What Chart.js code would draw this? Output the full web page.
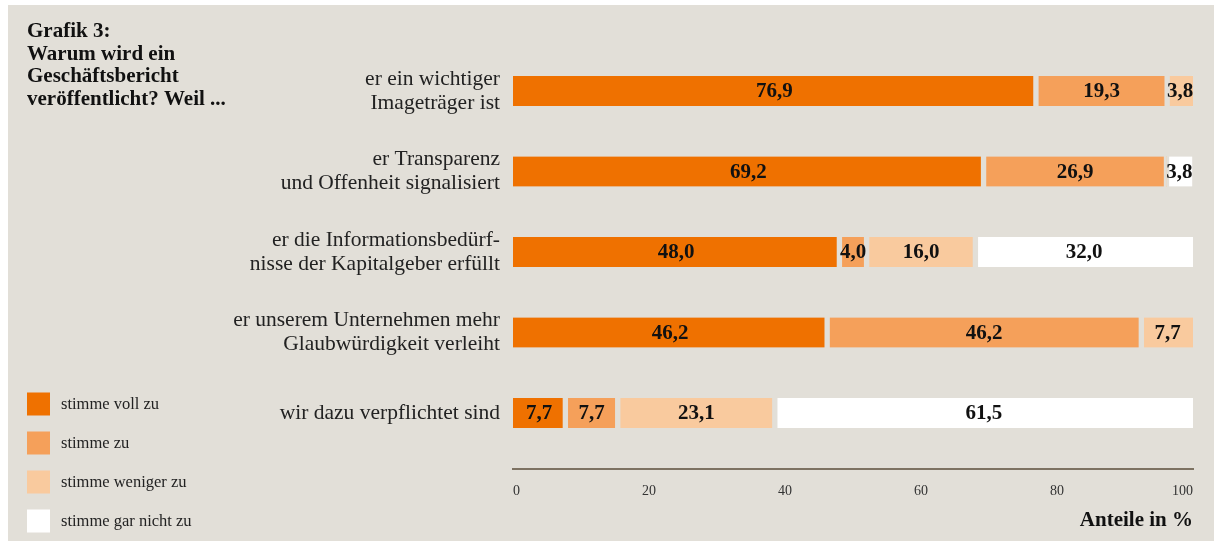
<!DOCTYPE html>
<html>
<head>
<meta charset="utf-8">
<script src="https://cdn.jsdelivr.net/npm/chart.js@4"></script>
<style>
  html, body { margin: 0; padding: 0; background: #ffffff; }
  #panel { position: absolute; left: 8px; top: 5px; width: 1206px; height: 536px; background: #e2dfd8; }
</style>
</head>
<body>
<div id="panel"><canvas id="myChart" width="1206" height="536"></canvas></div>
<script>
const categories = [
    ['er ein wichtiger', 'Imageträger ist'],
    ['er Transparenz', 'und Offenheit signalisiert'],
    ['er die Informationsbedürf-', 'nisse der Kapitalgeber erfüllt'],
    ['er unserem Unternehmen mehr', 'Glaubwürdigkeit verleiht'],
    ['wir dazu verpflichtet sind']
];
const seriesNames = ['stimme voll zu', 'stimme zu', 'stimme weniger zu', 'stimme gar nicht zu'];
const vollZu = [76.9, 69.2, 48.0, 46.2, 7.7];
const zu = [19.3, 26.9, 4.0, 46.2, 7.7];
const wenigerZu = [3.8, 0, 16.0, 7.7, 23.1];
const garNichtZu = [0, 3.8, 32.0, 0, 61.5];
const xTicks = [0, 20, 40, 60, 80, 100];
const titleLines = ['Grafik 3:', 'Warum wird ein', 'Geschäftsbericht', 'veröffentlicht? Weil ...'];

const colors = ['#ef7100', '#f5a05a', '#f9ca9e', '#ffffff'];
const bg = '#e2dfd8';
const serif = "'Liberation Serif', 'Times New Roman', serif";
const allSeries = [vollZu, zu, wenigerZu, garNichtZu];

function fmt(v) {
    return v.toFixed(1).replace('.', ',');
}

// gaps between the segments of one bar, none at the outer ends
function segBorder(ctx) {
    const i = ctx.dataIndex, d = ctx.datasetIndex;
    let first = true, last = true;
    for (let k = 0; k < d; k++) if (allSeries[k][i] > 0) first = false;
    for (let k = d + 1; k < allSeries.length; k++) if (allSeries[k][i] > 0) last = false;
    return { left: first ? 0 : 3, right: last ? 0 : 3, top: 0, bottom: 0 };
}

const datasets = allSeries.map((vals, d) => ({
    label: seriesNames[d],
    data: vals.map((v, i) => ({ x: v, y: i })),
    backgroundColor: colors[d],
    borderColor: bg,
    borderWidth: segBorder,
    borderSkipped: false,
    barThickness: 30
}));

const extras = {
    id: 'extras',
    afterDatasetsDraw(chart) {
        const c = chart.ctx;
        c.save();
        c.fillStyle = '#111';
        c.font = 'bold 21px ' + serif;
        c.textAlign = 'center';
        c.textBaseline = 'middle';
        chart.data.datasets.forEach((ds, d) => {
            chart.getDatasetMeta(d).data.forEach((bar, i) => {
                const v = allSeries[d][i];
                if (!v) return;
                const cx = (bar.x + bar.base) / 2;
                c.fillText(fmt(v), cx, bar.y + 1);
            });
        });
        c.restore();
    },
    afterDraw(chart) {
        const c = chart.ctx;
        c.save();
        c.fillStyle = '#111';
        c.font = 'bold 21px ' + serif;
        c.textAlign = 'left';
        c.textBaseline = 'middle';
        titleLines.forEach((t, k) => c.fillText(t, 19, 27 + k * 22.5));
        c.font = '16.5px ' + serif;
        seriesNames.forEach((name, k) => {
            const y = 399 + k * 39;
            c.fillStyle = colors[k];
            c.fillRect(19, y - 11.5, 23, 23);
            c.fillStyle = '#222';
            c.fillText(name, 53, y + 1);
        });
        c.restore();
    }
};

new Chart(document.getElementById('myChart'), {
    type: 'bar',
    data: { datasets: datasets },
    options: {
        indexAxis: 'y',
        responsive: false,
        animation: false,
        layout: { padding: { left: 0, right: 21, top: 42, bottom: 8 } },
        plugins: { legend: { display: false }, tooltip: { enabled: false } },
        scales: {
            x: {
                type: 'linear',
                stacked: true,
                min: 0,
                max: 100,
                afterBuildTicks: (scale) => { scale.ticks = xTicks.map(v => ({ value: v })); },
                grid: { display: false },
                border: { display: true, color: '#7d7262', width: 2 },
                ticks: { color: '#333', font: { family: serif, size: 14 }, padding: 6, align: 'inner', maxRotation: 0 },
                title: {
                    display: true,
                    text: 'Anteile in %',
                    align: 'end',
                    color: '#111',
                    font: { family: serif, size: 21, weight: 'bold' },
                    padding: { top: 12, bottom: 0 }
                },
                afterFit: (scale) => { scale.height = 64; scale.paddingLeft = 0; scale.paddingRight = 0; }
            },
            y: {
                type: 'linear',
                stacked: true,
                reverse: true,
                offset: false,
                min: -0.5466,
                max: 4.6957,
                afterBuildTicks: (scale) => { scale.ticks = categories.map((c, i) => ({ value: i })); },
                grid: { display: false, offset: false },
                border: { display: false },
                ticks: {
                    color: '#222',
                    font: { family: serif, size: 21.5, lineHeight: 1.12 },
                    padding: 5,
                    callback: (v) => categories[v]
                },
                afterFit: (scale) => { scale.width = 505; scale.paddingTop = 0; scale.paddingBottom = 0; }
            }
        }
    },
    plugins: [extras]
});
</script>
</body>
</html>
